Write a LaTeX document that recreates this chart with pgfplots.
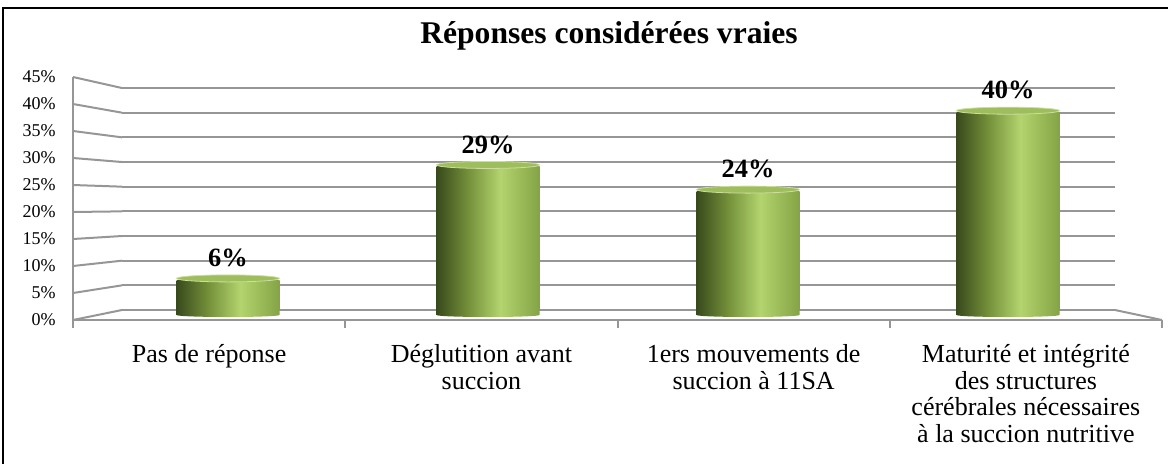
\documentclass[border=0pt]{standalone}
\usepackage{pgfplots}
\pgfplotsset{compat=1.18}
\usepackage{fontspec}
\setmainfont{Liberation Serif}
\definecolor{gridgray}{RGB}{150,150,150}
\definecolor{captop}{rgb}{0.62,0.74,0.36}
\definecolor{capedge}{rgb}{0.80,0.87,0.62}
\pgfdeclarehorizontalshading{cyl}{100bp}{rgb(0bp)=(0.22,0.29,0.11); rgb(25bp)=(0.22,0.29,0.11); rgb(40bp)=(0.45,0.56,0.22); rgb(56bp)=(0.70,0.83,0.43); rgb(75bp)=(0.52,0.64,0.27); rgb(100bp)=(0.52,0.64,0.27)}
\pgfdeclareplotmark{cyltop}{\filldraw[fill=captop, draw=capedge, line width=0.4pt] (0pt,1pt) ellipse [x radius=25.75pt, y radius=1.75pt];}
\pgfdeclareplotmark{cylbot}{\shade[shading=cyl, draw=none] (-25.75pt,0.3pt) -- (-25.75pt,-2.5pt) arc[start angle=180, end angle=360, x radius=25.75pt, y radius=1pt] -- (25.75pt,0.3pt) -- cycle;}
\pgfplotsset{barstyle/.style={ybar, bar width=51.5pt, draw=none, shade, shading=cyl,
  nodes near coords={\pgfmathprintnumber{\pgfplotspointmeta}\%},
  nodes near coords style={black, font=\fontsize{13.2}{15}\selectfont\bfseries, anchor=south, inner sep=0pt, yshift=6.5pt}}}
\begin{document}
\begin{tikzpicture}
\useasboundingbox (0,0) rectangle (584pt,231.5pt);
\draw[black, line width=1pt] (1.5pt,-20pt) rectangle (620pt,227.5pt);
\node[font=\fontsize{15.8}{18}\selectfont\bfseries] at (304.5pt,213.5pt) {Réponses considérées vraies};

% back wall with bars
\begin{axis}[at={(61pt,76.5pt)}, anchor=south west, scale only axis,
  width=496.5pt, height=111pt,
  xmin=-0.4077, xmax=3.4115, ymin=0, ymax=45,
  axis line style={draw=none}, xtick=\empty,
  ytick={0,5,...,45}, yticklabels={}, major tick length=0pt,
  ymajorgrids, grid style={gridgray, line width=1pt},
  clip=false,
  /pgf/number format/assume math mode=true,
]
\addplot[only marks, mark=cylbot, draw=none] coordinates {(0,0) (1,0) (2,0) (3,0)};
\addplot[barstyle] coordinates {(0,6)};
\addplot[barstyle] coordinates {(1,29)};
\addplot[barstyle] coordinates {(2,24)};
\addplot[barstyle] coordinates {(3,40)};
\addplot[only marks, mark=cyltop] coordinates {(0,6) (1,29) (2,24) (3,40)};
\end{axis}

% front frame with ticks and labels
\begin{axis}[at={(36.5pt,71.5pt)}, anchor=south west, scale only axis,
  width=544.5pt, height=121.5pt,
  xmin=0, xmax=4, ymin=0, ymax=45,
  axis x line*=bottom, axis y line*=left,
  axis line style={gridgray, line width=1pt, -},
  tick align=outside, major tick length=4pt,
  xtick={0,1,2,3,4}, xticklabels={},
  x tick style={gridgray, line width=1pt},
  ytick={0,5,...,45}, y tick style={draw=none},
  yticklabel={\pgfmathprintnumber{\tick}\%},
  yticklabel style={font=\fontsize{9}{10}\selectfont, anchor=east, inner sep=0pt, xshift=-4.5pt},
  /pgf/number format/assume math mode=true,
  extra x ticks={0.5,1.5,2.5,3.5},
  extra x tick labels={Pas de réponse, {Déglutition avant\\succion}, {1ers mouvements de\\succion à 11SA}, {Maturité et intégrité\\des structures\\cérébrales nécessaires\\à la succion nutritive}},
  extra x tick style={major tick length=0pt, xticklabel style={align=center, font=\fontsize{13}{13.3}\selectfont, anchor=north, inner sep=0pt, yshift=-12pt}},
]
\addplot[draw=none] coordinates {(0,0)};
\end{axis}

\foreach \v in {0,5,...,45}
  \draw[gridgray, line width=1pt] (36.5pt,{(143+5.4*\v)*0.5pt}) -- (61pt,{(153+4.933*\v)*0.5pt});
\draw[gridgray, line width=1pt] (557.5pt,76.5pt) -- (581pt,71.5pt);
\end{tikzpicture}
\end{document}
